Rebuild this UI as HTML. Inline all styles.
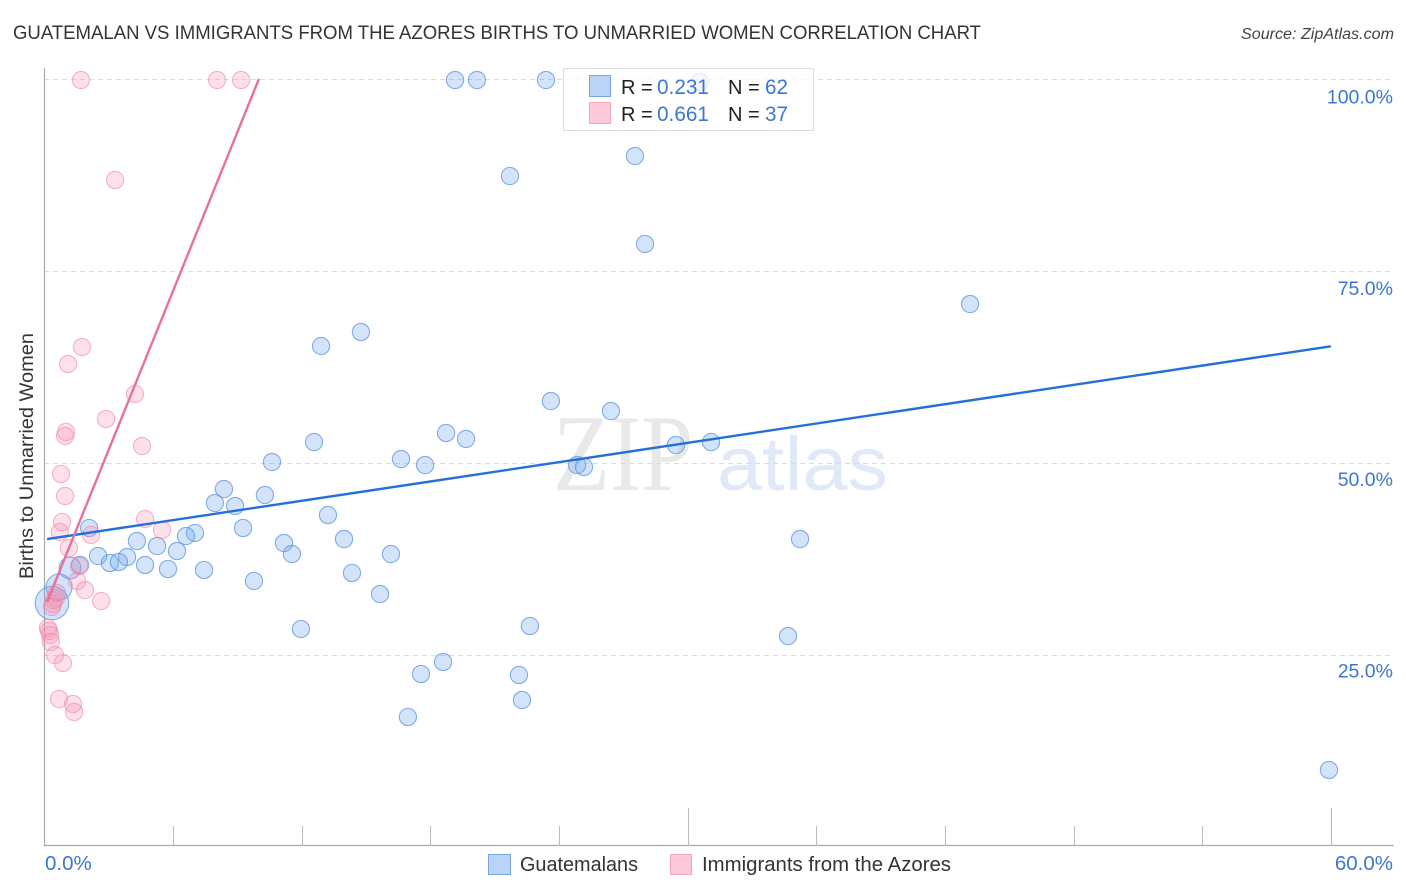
<!DOCTYPE html>
<html lang="en">
<head>
<meta charset="utf-8">
<title>Guatemalan vs Immigrants from the Azores Births to Unmarried Women Correlation Chart</title>
<style>
html,body{margin:0;padding:0;background:#fff;width:1406px;height:892px;overflow:hidden}
svg{display:block}
text{font-family:"Liberation Sans",sans-serif}
</style>
</head>
<body>
<svg id="chart" width="1406" height="892" viewBox="0 0 1406 892" xmlns="http://www.w3.org/2000/svg">
  <text x="13" y="39" font-size="19" fill="#333" textLength="968" lengthAdjust="spacingAndGlyphs">GUATEMALAN VS IMMIGRANTS FROM THE AZORES BIRTHS TO UNMARRIED WOMEN CORRELATION CHART</text>
  <text x="1394" y="39" font-size="15.5" font-style="italic" fill="#444" text-anchor="end" textLength="153" lengthAdjust="spacingAndGlyphs">Source: ZipAtlas.com</text>
  <text transform="translate(33,579) rotate(-90)" font-size="19" fill="#333" textLength="246" lengthAdjust="spacingAndGlyphs">Births to Unmarried Women</text>
  <g>
    <text x="553" y="490" style="font-family:'Liberation Serif',serif" font-size="109" fill="#e9e9e9" textLength="140" lengthAdjust="spacingAndGlyphs">ZIP</text>
    <text x="717" y="490" font-size="76" fill="#e0e9f8" textLength="171" lengthAdjust="spacingAndGlyphs">atlas</text>
  </g>
  <g id="grid"></g>
  <g id="axes"></g>
  <g id="blue-points"></g>
  <g id="pink-points"></g>
  <g id="trends"></g>
  <g>
    <rect x="563.5" y="68.5" width="250" height="62" fill="#fff" fill-opacity="0.75" stroke="#ddd" stroke-width="1"></rect>
    <rect x="589.5" y="75.5" width="21" height="21" fill="#b9d4f6" stroke="#78a6e4"></rect>
    <rect x="589.5" y="102.5" width="21" height="21" fill="#fcc8da" stroke="#f3a6bf"></rect>
    <text x="621" y="94" font-size="20" fill="#222">R =</text>
    <text x="657" y="94" font-size="21" fill="#3b76d4" textLength="52" lengthAdjust="spacingAndGlyphs">0.231</text>
    <text x="728" y="94" font-size="20" fill="#222">N =</text>
    <text x="765" y="94" font-size="21" fill="#3b76d4" textLength="23" lengthAdjust="spacingAndGlyphs">62</text>
    <text x="621" y="121" font-size="20" fill="#222">R =</text>
    <text x="657" y="121" font-size="21" fill="#3b76d4" textLength="52" lengthAdjust="spacingAndGlyphs">0.661</text>
    <text x="728" y="121" font-size="20" fill="#222">N =</text>
    <text x="765" y="121" font-size="21" fill="#3b76d4" textLength="23" lengthAdjust="spacingAndGlyphs">37</text>
  </g>
  <g>
    <rect x="488.5" y="854.5" width="22" height="20" fill="#b9d4f6" stroke="#78a6e4"></rect>
    <text x="520" y="871" font-size="20" fill="#333" textLength="118" lengthAdjust="spacingAndGlyphs">Guatemalans</text>
    <rect x="670.5" y="854.5" width="21" height="20" fill="#fcc8da" stroke="#f3a6bf"></rect>
    <text x="702" y="871" font-size="20" fill="#333" textLength="249" lengthAdjust="spacingAndGlyphs">Immigrants from the Azores</text>
  </g>
</svg>
<script>
const xTickValues = [0, 6, 12, 18, 24, 30, 36, 42, 48, 54, 60];
const xMajorTicks = [30, 60];
const xTickLabels = ["0.0%", "60.0%"];
const xLabelValues = [0, 60];
const yTickValues = [25, 50, 75, 100];
const yTickLabels = ["25.0%", "50.0%", "75.0%", "100.0%"];

const guatemalansX = [19.15,20.17,23.39,30.57,27.54,21.71,28.01,43.17,14.76,12.90,23.62,26.42,18.73,19.66,12.57,29.45,31.09,16.63,17.75,10.61,24.84,25.16,8.37,10.28,7.95,8.89,13.22,9.26,2.08,7.02,6.60,13.97,35.24,4.31,11.17,5.25,6.18,11.54,16.16,2.50,3.85,3.05,3.47,4.69,1.66,5.76,7.44,1.19,14.34,9.77,0.68,15.65,0.35,22.64,11.96,34.68,18.59,17.56,22.13,22.27,16.95,59.91];
const guatemalansY = [99.87,99.87,99.87,99.6,89.97,87.37,78.52,70.70,67.06,65.23,58.07,56.77,53.91,53.13,52.73,52.34,52.73,50.52,49.74,50.13,49.74,49.48,46.61,45.83,44.79,44.40,43.23,41.54,41.54,40.89,40.49,40.10,40.10,39.84,39.58,39.19,38.54,38.15,38.15,37.89,37.76,36.98,37.11,36.72,36.72,36.20,36.07,36.33,35.68,34.64,33.85,32.94,31.77,28.78,28.39,27.47,24.09,22.53,22.40,19.14,16.93,10.03];
const guatemalansWeight = [1,1,1,1,1,1,1,1,1,1,1,1,1,1,1,1,1,1,1,1,1,1,1,1,1,1,1,1,1,1,1,1,1,1,1,1,1,1,1,1,1,1,1,1,1,1,1,1.6,1,1,2.3,1,3.8,1,1,1,1,1,1,1,1,1];

const azoresX = [1.70,8.05,9.17,3.29,1.75,1.10,4.22,2.87,1.00,0.96,4.55,0.77,0.96,4.69,0.82,5.48,0.72,2.17,1.14,1.61,1.52,1.89,2.64,0.44,0.54,0.40,0.58,0.35,0.16,0.21,0.26,0.30,0.49,0.86,0.68,1.33,1.38];
const azoresY = [99.87,99.87,99.87,86.85,65.10,62.89,58.99,55.73,54.04,53.52,52.21,48.57,45.70,42.71,42.32,41.28,41.02,40.63,38.93,36.59,34.64,33.46,32.03,32.16,32.42,31.64,33.07,31.25,28.52,28.13,27.60,26.69,25.00,23.96,19.27,18.62,17.58];

const guatemalansTrendX = [0.12, 60];
const guatemalansTrendY = [40.1, 65.2];
const azoresTrendX = [0.12, 10];
const azoresTrendY = [31.9, 100];

const xScale = v => 44.5 + v * 21.44;
const yScale = v => 847 - v * 7.68;
const yLabelScale = v => 103.5 + (100 - v) * 7.653;
const NS = "http://www.w3.org/2000/svg";

function make(tag, attrs, parent, text) {
  const el = document.createElementNS(NS, tag);
  for (const k in attrs) el.setAttribute(k, attrs[k]);
  if (text !== undefined) el.textContent = text;
  parent.appendChild(el);
  return el;
}

const grid = document.getElementById("grid");
const axes = document.getElementById("axes");
const bluePts = document.getElementById("blue-points");
const pinkPts = document.getElementById("pink-points");
const trends = document.getElementById("trends");

yTickValues.forEach((v, i) => {
  const y = Math.round(yScale(v)) + 0.5;
  const line = make("line", {x1: 44, x2: 1394, y1: y, y2: y, stroke: "#dcdcdc", "stroke-width": 1, "stroke-dasharray": "5 4"}, grid);
  
  
  const label = make("text", {x: 1393, y: yLabelScale(v), "font-size": 19.5, fill: "#3b76d4", "text-anchor": "end"}, axes, yTickLabels[i]);
  
  
});

const yAxisLine = make("line", {x1: 44.5, x2: 44.5, y1: 68, y2: 846, stroke: "#aaa", "stroke-width": 1.2}, axes);


const xAxisLine = make("line", {x1: 44, x2: 1394, y1: 845.5, y2: 845.5, stroke: "#aaa", "stroke-width": 1.2}, axes);



xTickValues.forEach(v => {
  if (v === 0) return;
  const x = Math.round(xScale(v)) + 0.5;
  const top = xMajorTicks.includes(v) ? 808 : 826;
  const tick = make("line", {x1: x, x2: x, y1: top, y2: 846, stroke: "#bbb", "stroke-width": 1}, axes);
  
  
});

xLabelValues.forEach((v, i) => {
  const label = make("text", {x: v === 0 ? 45 : 1393, y: 870, "font-size": 20.5, fill: "#3b76d4", "text-anchor": v === 0 ? "start" : "end"}, axes, xTickLabels[i]);
  
  
});

guatemalansX.forEach((v, i) => {
  const c = make("circle", {cx: xScale(v), cy: yScale(guatemalansY[i]), r: 8.6 * Math.sqrt(guatemalansWeight[i]), fill: "#6ea6ee", "fill-opacity": 0.3, stroke: "#5d93e0", "stroke-opacity": 0.75, "stroke-width": 1.1}, bluePts);
  
  
});

azoresX.forEach((v, i) => {
  const c = make("circle", {cx: xScale(v), cy: yScale(azoresY[i]), r: 8.6, fill: "#f78fb0", "fill-opacity": 0.28, stroke: "#ee85a8", "stroke-opacity": 0.6, "stroke-width": 1.1}, pinkPts);
  
  
});

const blueTrend = make("line", {x1: xScale(guatemalansTrendX[0]), y1: yScale(guatemalansTrendY[0]), x2: xScale(guatemalansTrendX[1]), y2: yScale(guatemalansTrendY[1]), stroke: "#2270d8", "stroke-width": 2.4}, trends);


const pinkTrend = make("line", {x1: xScale(azoresTrendX[0]), y1: yScale(azoresTrendY[0]), x2: xScale(azoresTrendX[1]), y2: yScale(azoresTrendY[1]), stroke: "#e8709c", "stroke-width": 2.4}, trends);


</script>
</body>
</html>
